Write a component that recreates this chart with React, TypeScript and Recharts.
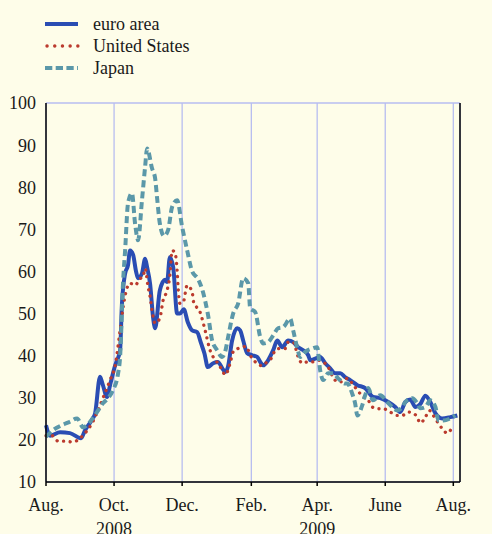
import { LineChart, Line, XAxis, YAxis, CartesianGrid } from "recharts";

// x = days since 1 Aug 2008, y = index value
const euroArea: [number, number][] = [
  [0, 23.5], [3.6, 21], [12.6, 21.8], [21.5, 21.6], [31.4, 20.4], [35, 22.3], [41, 24.7], [44, 26.3],
  [48.4, 35], [51, 33], [54.7, 30.2], [57.4, 33], [62, 37.7], [64.6, 39.5], [66.4, 41.3], [68, 52],
  [70.9, 59.5], [73.5, 61.5], [75.3, 65], [78, 64], [80.7, 60], [82.5, 58.4], [86, 59.5], [88.8, 63],
  [90.6, 61], [93.3, 57], [96, 49], [97.8, 46.5], [102, 55.5], [106.7, 58], [108.5, 57.5], [111, 63.4],
  [114, 61], [117.5, 50], [120, 50], [123.5, 51], [127, 48], [131, 46], [135.4, 45.6], [139, 42.9],
  [142, 40.5], [145, 37.3], [149.8, 38.2], [154, 38.5], [158, 37], [160.5, 36.1], [163, 37.3],
  [166.8, 43.6], [171.3, 46.5], [174, 46], [176.7, 43.6], [180.3, 40.6], [184.8, 40.1], [189.2, 39.7],
  [192, 38.5], [194.6, 37.7], [199, 38.9], [203.6, 41.3], [207.2, 43.6], [211.7, 42], [217, 43.6],
  [221.5, 43.2], [226, 42], [230.5, 41.3], [235, 40.1], [236.8, 38.9], [241.3, 39.3], [245.7, 39.7],
  [250.2, 38.2], [254.7, 37], [259.2, 35.8], [263.7, 35.8], [268, 34.9], [272.6, 34.2], [279, 33],
  [286, 32.3], [293, 30.2], [299.6, 29.9], [306.7, 29], [313, 27.8], [317.5, 26.6], [322, 29],
  [326.5, 29.6], [331, 27.8], [335.4, 28.5], [340, 30.5], [344.4, 29], [349, 26.3], [355, 25.1],
  [362.3, 25.4], [368.6, 25.8],
];

const unitedStates: [number, number][] = [
  [0, 21], [5.4, 21], [10.8, 19.7], [17, 19.7], [24.2, 19.5], [30.5, 20.4], [35, 21.6], [41.3, 24],
  [46.6, 27], [51, 29.9], [57.4, 34.2], [62, 37.7], [66.4, 46], [70, 53], [75.3, 57.2], [79.8, 56.7],
  [84.3, 58.3], [87, 58.7], [88.8, 60.7], [91.5, 56.3], [93.3, 54], [95, 50.8], [97.8, 47.7], [102, 48.9],
  [105, 53.2], [108.5, 55.5], [111, 59], [113, 65], [115.7, 64.3], [117.5, 60.3], [118.4, 56.3],
  [120, 52.4], [123, 52.7], [126.5, 56.7], [131, 55.1], [132.3, 52.7], [138, 50.4], [142.6, 46],
  [147, 41.3], [149.8, 39.7], [154, 38.2], [158, 36.5], [160.5, 35.4], [165, 38.2], [167.7, 40.9],
  [172, 41.7], [175.8, 42], [179.4, 42.2], [183, 40.1], [189, 38.2], [193.7, 37.6], [198, 38.5],
  [202.7, 39.7], [205.4, 41.3], [210, 41.7], [214.4, 41.7], [217, 43.2], [221.5, 43.2], [226, 39.7],
  [229.6, 38.2], [234, 38.5], [238.5, 38.5], [244, 38.9], [248.4, 38.5], [252.9, 37.3], [256.5, 35.3],
  [261, 33.8], [265.5, 33.8], [270, 34.6], [274.4, 33.4], [279, 31.8], [284.3, 30.2], [288.8, 29.4],
  [292.4, 27.8], [297.8, 27.4], [302.2, 27.4], [308.5, 26.6], [314.8, 25.8], [319.3, 25.8],
  [324.7, 26.6], [331.8, 25.8], [335.4, 24], [340, 25.4], [343.5, 27], [347, 25.8], [350.7, 24.3],
  [355, 22.7], [359.6, 21.6], [364, 23],
];

const japan: [number, number][] = [
  [0, 20.7], [6.3, 22.3], [14.3, 23.5], [21.5, 24.3], [27.8, 25.1], [33.2, 23], [39.5, 24.3],
  [45.7, 26.6], [51, 28.7], [55.6, 29.9], [60, 31.8], [64.6, 35.8], [66.4, 39.7], [69, 57.2],
  [70.9, 65], [73.5, 76.2], [77, 78.6], [79.8, 71.4], [82.5, 67.4], [86, 76.9], [88.8, 84.8],
  [90.6, 89.2], [95, 84.5], [97.8, 82.1], [99.5, 77.6], [102, 71.4], [105.8, 68.4], [109.4, 69.8],
  [113, 75.3], [117.5, 76.9], [122, 70.6], [126.5, 65], [131, 60], [136.3, 58.2], [140.8, 55],
  [145.3, 49.5], [148.9, 43.6], [153.4, 41.3], [157.8, 39.7], [160.5, 40.9], [163.2, 44.4],
  [167.7, 50], [172.2, 52.4], [176.7, 58.4], [181.2, 57.2], [183, 51.2], [187.4, 50.4], [192, 44.4],
  [194.6, 42.9], [199, 43.2], [203.6, 44.8], [208, 46.5], [212.6, 46.8], [218.8, 48.8], [221.5, 46],
  [225, 42], [227.8, 39.7], [232.3, 40.9], [238.6, 41.7], [243, 42], [245.7, 36.5], [248.4, 34.2],
  [252.9, 35.8], [257.4, 35.8], [261.9, 34.6], [268, 33.4], [270, 33.4], [274.4, 31], [277, 28.7],
  [279, 25.8], [283.4, 28.2], [286, 30.6], [288.8, 32.3], [293, 29.4], [299.6, 30.6], [305.8, 29],
  [310.3, 27.8], [314.8, 27], [319.3, 27.8], [322, 29], [328.3, 29.9], [332.7, 28.7], [335.4, 27.5],
  [340, 27.8], [344.4, 29.4], [349, 27.8], [351.6, 24.6], [356, 24.6], [362.3, 25.1], [366.8, 25.8],
];

const tickDays = [0, 61, 122, 184, 243, 304, 365];
const tickMonths = ["Aug.", "Oct.", "Dec.", "Feb.", "Apr.", "June", "Aug."];
const tickYears = ["", "2008", "", "", "2009", "", ""];
const yTicks = [10, 20, 30, 40, 50, 60, 70, 80, 90, 100];

const seriesNames = ["euro area", "United States", "Japan"];

const FONT = "'Liberation Serif', 'Times New Roman', serif";
const BG = "#fefde9";
const EURO = "#2a4db3";
const US = "#bb3b2e";
const JP = "#5b98a9";

const toRows = (pts: [number, number][]) => pts.map(([day, value]) => ({ day, value }));

function MonthTick(props: any) {
  const { x, y, payload } = props;
  const i = tickDays.indexOf(payload.value);
  return (
    <g>
      <text x={x} y={y + 25} textAnchor="middle" fontSize={18} fontFamily={FONT} fill="#1a1a1a">
        {tickMonths[i]}
      </text>
      {tickYears[i] && (
        <text x={x} y={y + 49} textAnchor="middle" fontSize={18} fontFamily={FONT} fill="#1a1a1a">
          {tickYears[i]}
        </text>
      )}
    </g>
  );
}

function LegendBox() {
  const rows = [24, 46, 68];
  return (
    <svg width={492} height={90} style={{ position: "absolute", left: 0, top: 0 }}>
      <line x1={45} x2={78} y1={rows[0]} y2={rows[0]} stroke={EURO} strokeWidth={4} />
      <line x1={47} x2={78} y1={rows[1]} y2={rows[1]} stroke={US} strokeWidth={3.4}
        strokeDasharray="0.1 7.6" strokeLinecap="round" />
      <line x1={45} x2={78} y1={rows[2]} y2={rows[2]} stroke={JP} strokeWidth={4} strokeDasharray="7.3 3.4" />
      {seriesNames.map((n, i) => (
        <text key={n} x={93} y={rows[i] + 6} fontSize={18} fontFamily={FONT} fill="#1a1a1a">{n}</text>
      ))}
    </svg>
  );
}

export default function App() {
  const tickStyle = { fontSize: 18, fontFamily: FONT, fill: "#1a1a1a" };
  return (
    <div style={{ position: "fixed", left: 0, top: 0, width: 492, height: 534, background: BG }}>
      <LineChart width={492} height={534} margin={{ top: 103, right: 0, left: 0, bottom: 0 }}>
        <CartesianGrid stroke="#b7bdf0" strokeWidth={1.3} />
        <XAxis
          dataKey="day"
          type="number"
          domain={[0, 371]}
          ticks={tickDays}
          allowDuplicatedCategory={false}
          height={52}
          tickSize={4}
          tickMargin={0}
          tick={<MonthTick />}
          axisLine={{ stroke: "#000", strokeWidth: 1.5 }}
          tickLine={{ stroke: "#000", strokeWidth: 1.5 }}
        />
        <YAxis
          yAxisId="left"
          orientation="left"
          domain={[10, 100]}
          ticks={yTicks}
          width={46}
          tickSize={0}
          tickMargin={10}
          tick={tickStyle}
          axisLine={{ stroke: "#000", strokeWidth: 1.5 }}
          tickLine={false}
        />
        <YAxis
          yAxisId="right"
          orientation="right"
          domain={[10, 100]}
          ticks={yTicks}
          width={32}
          tickSize={0}
          tickMargin={7}
          tick={{ ...tickStyle, textAnchor: "start" }}
          axisLine={{ stroke: "#000", strokeWidth: 1.5 }}
          tickLine={false}
        />
        <Line yAxisId="left" data={toRows(euroArea)} dataKey="value" type="monotone" stroke={EURO}
          strokeWidth={4} dot={false} isAnimationActive={false} />
        <Line yAxisId="left" data={toRows(unitedStates)} dataKey="value" type="monotone" stroke={US}
          strokeWidth={3.3} strokeDasharray="0.1 6.5" strokeLinecap="round" dot={false} isAnimationActive={false} />
        <Line yAxisId="left" data={toRows(japan)} dataKey="value" type="monotone" stroke={JP}
          strokeWidth={4} strokeDasharray="7 4" dot={false} isAnimationActive={false} />
      </LineChart>
      <LegendBox />
    </div>
  );
}
